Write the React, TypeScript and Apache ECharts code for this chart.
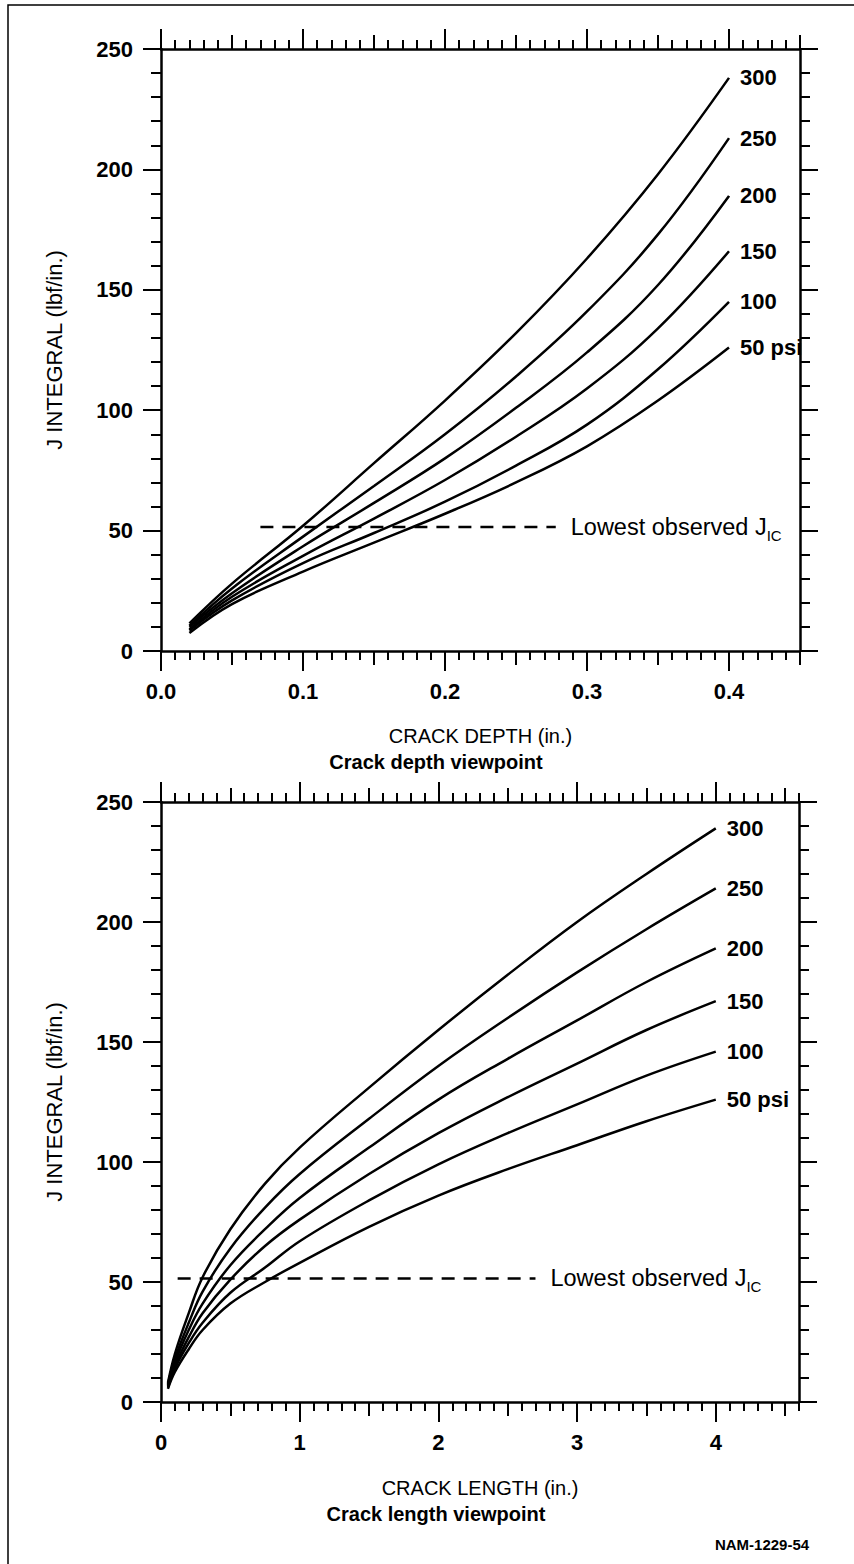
import React, { useEffect, useRef } from 'react';
import * as echarts from 'echarts';

const FONT = "'Liberation Sans', Arial, Helvetica, sans-serif";

const pressureLabels = ['300', '250', '200', '150', '100', '50 psi'];

// Crack depth viewpoint (in.)
const depthX = [0.02, 0.05, 0.1, 0.15, 0.2, 0.25, 0.3, 0.35, 0.4];
const depthJ300 = [11.5, 28, 52, 78, 104, 132, 163, 198, 238];
const depthJ250 = [10.5, 26, 47.5, 68.5, 90, 114, 141, 173, 213];
const depthJ200 = [10, 24, 43.5, 61.5, 80, 101, 124, 152, 189];
const depthJ150 = [9, 22.5, 39.5, 55, 71, 89, 109, 134, 166];
const depthJ100 = [8.5, 21, 36.5, 49, 62, 77, 94, 117, 145];
const depthJ50 = [7.5, 19.5, 33, 45, 57, 70, 85, 104, 126];

// Crack length viewpoint (in.)
const lengthX = [0.05, 0.1, 0.2, 0.3, 0.5, 0.75, 1.0, 1.5, 2.0, 2.5, 3.0, 3.5, 4.0];
const lengthJ300 = [8, 20, 37, 52, 72, 91, 106, 131, 155, 178, 200, 220, 239];
const lengthJ250 = [7.5, 18, 33, 46, 64, 81, 95, 118, 140, 160, 179, 197, 214];
const lengthJ200 = [7, 16.5, 30, 41, 57, 72, 85, 106, 126, 143, 159, 175, 189];
const lengthJ150 = [6.5, 15, 27, 37, 51, 65, 76, 95, 112, 127, 141, 155, 167];
const lengthJ100 = [6, 14, 24.5, 33, 45.5, 56, 67, 84, 99, 112, 124, 136, 146];
const lengthJ50 = [5.5, 12.5, 22, 30, 41, 50, 58, 73, 86, 97, 107, 117, 126];

// Lowest observed J_IC
const jicValue = 51.5;
const depthJicX = [0.07, 0.278];
const lengthJicX = [0.12, 2.7];

// Axis ticks
const yMajorTicks = [0, 50, 100, 150, 200, 250];
const depthMajorTicks = [0, 0.1, 0.2, 0.3, 0.4];
const lengthMajorTicks = [0, 1, 2, 3, 4];
const depthMax = 0.45;
const lengthMax = 4.6;

const titles = ['Crack depth viewpoint', 'Crack length viewpoint'];
const xNames = ['CRACK DEPTH (in.)', 'CRACK LENGTH (in.)'];
const yName = 'J INTEGRAL (lbf/in.)';
const figureId = 'NAM-1229-54';

const BLACK = '#000';

function tickSets(max: number, majorStep: number) {
  const n = Math.round(max / (majorStep / 10));
  const medium: number[] = [];
  const minor: number[] = [];
  for (let i = 0; i <= n; i++) {
    const v = +(i * majorStep / 10).toFixed(4);
    if (i % 10 === 0) continue;
    if (i % 5 === 0) medium.push(v);
    else minor.push(v);
  }
  return { medium, minor };
}

function buildXAxes(grid: number, max: number, majors: number[], majorStep: number, name: string, fmt: (v: number) => string, labelMargin: number, nameGap: number) {
  const { medium, minor } = tickSets(max, majorStep);
  const axes: any[] = [];
  (['bottom', 'top'] as const).forEach((pos) => {
    const sets: [number[], number][] = [[majors, 20], [medium, 14], [minor, 9]];
    sets.forEach(([vals, len], k) => {
      const main = k === 0;
      axes.push({
        type: 'value',
        gridIndex: grid,
        position: pos,
        min: 0,
        max,
        name: main && pos === 'bottom' ? name : '',
        nameLocation: 'middle',
        nameGap,
        nameTextStyle: { color: BLACK, fontSize: 20, fontFamily: FONT },
        axisLine: { show: main, onZero: false, lineStyle: { color: BLACK, width: 2.5 } },
        axisTick: { show: true, inside: false, length: len, customValues: vals, lineStyle: { color: BLACK, width: 2 } },
        axisLabel: {
          show: main && pos === 'bottom',
          customValues: majors,
          formatter: fmt,
          margin: labelMargin,
          color: BLACK,
          fontSize: 22,
          fontWeight: 'bold',
          fontFamily: FONT,
        },
        splitLine: { show: false },
        minorTick: { show: false },
      });
    });
  });
  return axes;
}

function buildYAxes(grid: number) {
  return (['left', 'right'] as const).map((pos) => ({
    type: 'value',
    gridIndex: grid,
    position: pos,
    min: yMajorTicks[0],
    max: yMajorTicks[yMajorTicks.length - 1],
    interval: 50,
    name: pos === 'left' ? yName : '',
    nameLocation: 'middle',
    nameRotate: 90,
    nameGap: 96,
    nameTextStyle: { color: BLACK, fontSize: 22, fontFamily: FONT },
    axisLine: { show: true, onZero: false, lineStyle: { color: BLACK, width: 2.5 } },
    axisTick: { show: true, inside: false, length: 18, lineStyle: { color: BLACK, width: 2 } },
    minorTick: { show: true, splitNumber: 5, length: 10, lineStyle: { color: BLACK, width: 2 } },
    axisLabel: {
      show: pos === 'left',
      margin: 28,
      color: BLACK,
      fontSize: 22,
      fontWeight: 'bold',
      fontFamily: FONT,
    },
    splitLine: { show: false },
    minorSplitLine: { show: false },
  }));
}

function curveSeries(xs: number[], ys: number[], label: string, xAxisIndex: number, yAxisIndex: number) {
  return {
    type: 'line',
    name: label,
    xAxisIndex,
    yAxisIndex,
    data: xs.map((x, i) => [x, ys[i]]),
    smooth: 0.4,
    showSymbol: false,
    symbol: 'none',
    lineStyle: { color: BLACK, width: 2.5 },
    endLabel: {
      show: true,
      formatter: label,
      distance: 11,
      color: BLACK,
      fontSize: 22,
      fontWeight: 'bold',
      fontFamily: FONT,
    },
    z: 3,
  };
}

function jicSeries(xs: number[], xAxisIndex: number, yAxisIndex: number) {
  return {
    type: 'line',
    name: 'Lowest observed JIC',
    xAxisIndex,
    yAxisIndex,
    data: xs.map((x) => [x, jicValue]),
    showSymbol: false,
    symbol: 'none',
    lineStyle: { color: BLACK, width: 2.5, type: [13, 9] },
    endLabel: {
      show: true,
      distance: 15,
      formatter: '{m|Lowest observed J}{s|IC}',
      rich: {
        m: { fontSize: 23.5, color: BLACK, fontFamily: FONT, lineHeight: 32, verticalAlign: 'middle' },
        s: { fontSize: 15, color: BLACK, fontFamily: FONT, lineHeight: 32, verticalAlign: 'bottom' },
      },
    },
    z: 2,
  };
}

export default function App() {
  const ref = useRef<HTMLDivElement>(null);

  useEffect(() => {
    if (!ref.current) return;
    const chart = echarts.init(ref.current, undefined, { renderer: 'svg' });

    const depthSeriesY = [depthJ300, depthJ250, depthJ200, depthJ150, depthJ100, depthJ50];
    const lengthSeriesY = [lengthJ300, lengthJ250, lengthJ200, lengthJ150, lengthJ100, lengthJ50];

    const xTop = buildXAxes(0, depthMax, depthMajorTicks, 0.1, xNames[0], (v: number) => v.toFixed(1), 29, 75);
    const xBottom = buildXAxes(1, lengthMax, lengthMajorTicks, 1, xNames[1], (v: number) => String(Math.round(v)), 29, 76);
    const xAxes = [...xTop, ...xBottom];
    const bottomMainIdx = xTop.length;

    const series: any[] = [];
    depthSeriesY.forEach((ys, i) => series.push(curveSeries(depthX, ys, pressureLabels[i], 0, 0)));
    series.push(jicSeries(depthJicX, 0, 0));
    lengthSeriesY.forEach((ys, i) => series.push(curveSeries(lengthX, ys, pressureLabels[i], bottomMainIdx, 2)));
    series.push(jicSeries(lengthJicX, bottomMainIdx, 2));

    chart.setOption({
      animation: false,
      backgroundColor: '#fff',
      textStyle: { fontFamily: FONT },
      grid: [
        { left: 161, top: 49, width: 639, height: 602 },
        { left: 161, top: 802, width: 638, height: 600 },
      ],
      xAxis: xAxes,
      yAxis: [...buildYAxes(0), ...buildYAxes(1)],
      series,
      graphic: [
        {
          type: 'rect',
          silent: true,
          shape: { x: 8, y: 5, width: 900, height: 1600 },
          style: { fill: 'none', stroke: BLACK, lineWidth: 1.5 },
        },
        {
          type: 'text',
          x: 436,
          y: 762,
          style: { text: titles[0], fill: BLACK, font: `bold 20px ${FONT}`, textAlign: 'center', textVerticalAlign: 'middle' },
        },
        {
          type: 'text',
          x: 436,
          y: 1514,
          style: { text: titles[1], fill: BLACK, font: `bold 20px ${FONT}`, textAlign: 'center', textVerticalAlign: 'middle' },
        },
        {
          type: 'text',
          x: 762,
          y: 1544,
          style: { text: figureId, fill: BLACK, font: `bold 15px ${FONT}`, textAlign: 'center', textVerticalAlign: 'middle' },
        },
      ],
    });

    return () => chart.dispose();
  }, []);

  return <div ref={ref} style={{ position: 'absolute', left: 0, top: 0, width: 854, height: 1564, background: '#fff' }} />;
}
